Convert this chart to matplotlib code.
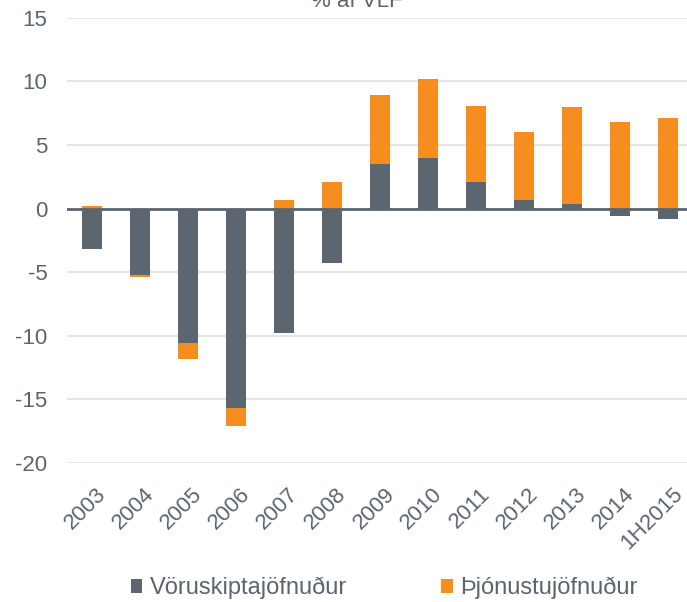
import numpy as np
import matplotlib
matplotlib.use("Agg")
import matplotlib.pyplot as plt
from matplotlib.transforms import ScaledTranslation

plt.rcParams['font.family'] = ['Liberation Sans', 'DejaVu Sans']
plt.rcParams['axes.unicode_minus'] = False

years = ['2003', '2004', '2005', '2006', '2007', '2008', '2009', '2010',
         '2011', '2012', '2013', '2014', '1H2015']
# Vöruskiptajöfnuður (goods balance), % of GDP
goods = [-3.2, -5.25, -10.55, -15.7, -9.8, -4.3, 3.5, 3.95, 2.1, 0.7, 0.35, -0.55, -0.85]
# Þjónustujöfnuður (services balance), % of GDP
services = [0.2, -0.15, -1.25, -1.4, 0.7, 2.1, 5.45, 6.25, 5.95, 5.3, 7.65, 6.8, 7.1]

GREY = '#5c6670'
ORANGE = '#f68d1f'
TXT = '#5a6570'

fig = plt.figure(figsize=(6.87, 6.02), dpi=100)
ax = fig.add_axes([67 / 687, 1 - 463 / 602, 625 / 687, (463 - 17.7) / 602])

x = np.arange(len(years))
goods = np.array(goods)
services = np.array(services)

# stack each series on its own side of zero
serv_base = np.where(np.sign(services) == np.sign(goods), goods, 0)

w = 0.42
ax.bar(x, goods, w, color=GREY, label='Vöruskiptajöfnuður', zorder=3)
ax.bar(x, services, w, bottom=serv_base, color=ORANGE, label='Þjónustujöfnuður', zorder=3)

ax.axhline(0, color=GREY, lw=2, zorder=4)

ax.set_ylim(-20, 15)
ax.set_yticks(range(-20, 16, 5))
ax.set_xlim(-0.52, 12.5)
ax.set_xticks(x)
ax.set_xticklabels(years, rotation=45, ha='right', va='top', rotation_mode='anchor')
ax.yaxis.grid(True, color='#e6e6e6', lw=1.5, zorder=0)
ax.set_axisbelow(True)
for s in ax.spines.values():
    s.set_visible(False)
ax.tick_params(axis='both', length=0, labelsize=16, colors=TXT)
ax.tick_params(axis='y', pad=14)
ax.tick_params(axis='x', pad=15)
shift = ScaledTranslation(4 / 100, 0, fig.dpi_scale_trans)
for lab in ax.get_xticklabels():
    lab.set_transform(lab.get_transform() + shift)

fig.text(0.52, 1 - 7 / 602, '% af VLF', ha='center', va='baseline', fontsize=16, color=TXT)

leg = fig.legend(loc='center', bbox_to_anchor=(0.559, 1 - 588 / 602), ncol=2, frameon=False,
                 fontsize=17, handlelength=0.5, handleheight=0.5, columnspacing=4.0,
                 handletextpad=0.3)
for t in leg.get_texts():
    t.set_color(TXT)

fig.savefig('out.png', dpi=100)
